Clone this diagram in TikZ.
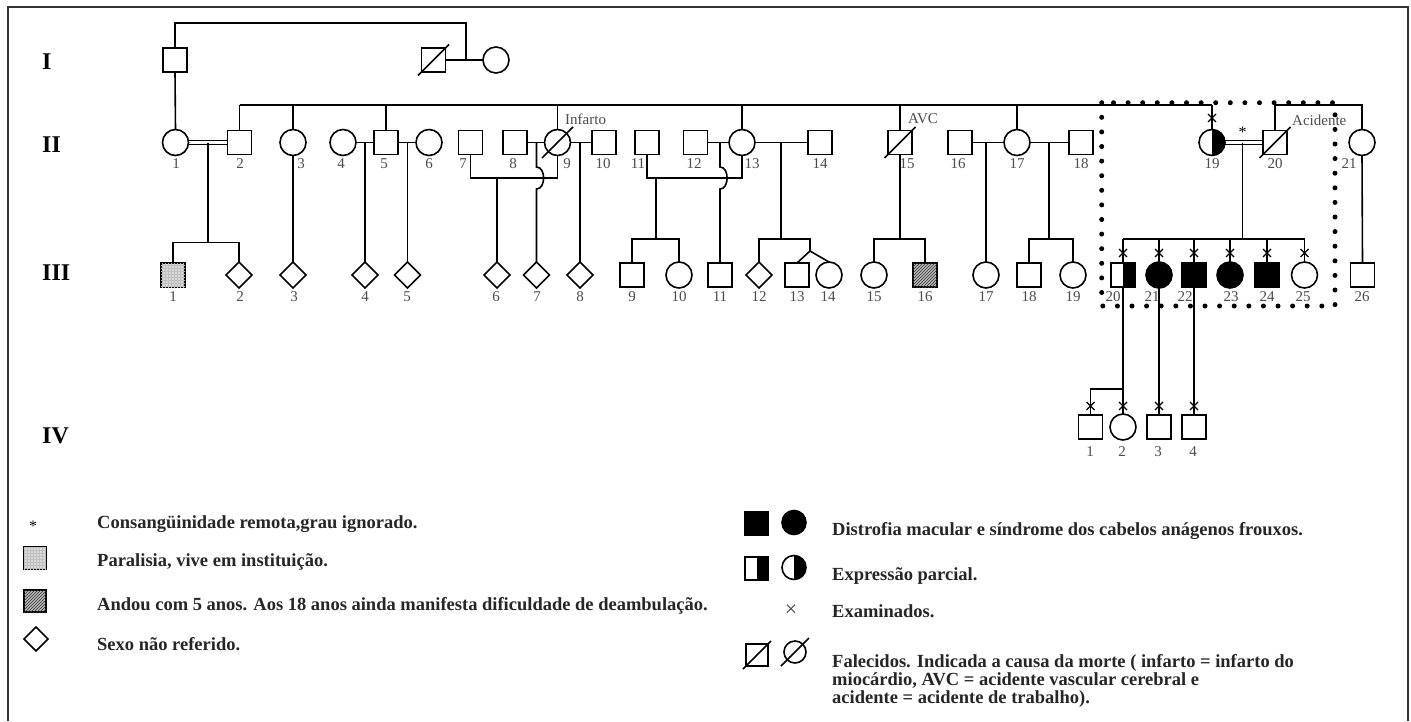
\documentclass[tikz,border=0pt]{standalone}
\usepackage{fontspec}
\setmainfont{Liberation Serif}
\usetikzlibrary{shapes.geometric,patterns,backgrounds,calc}

% examined mark: a small cross centred on a point
\newcommand\pedX[1]{\draw[line width=1.1pt, shift={(#1)}] (-4,-4) -- (4,4) (-4,4) -- (4,-4);}
% deceased: a slash through the symbol
\newcommand\pedDead[2][16]{\draw[line width=1.5pt] ($(#2.center)+(-#1,#1)$) -- ($(#2.center)+(#1,-#1)$);}

\begin{document}
\begin{tikzpicture}[x=1pt,y=-1pt,
  ind/.style={draw, line width=1.6pt, fill=white, inner sep=0pt, outer sep=0pt},
  male/.style={ind, rectangle, minimum size=24pt},
  female/.style={ind, circle, minimum size=26pt},
  unk/.style={ind, diamond, minimum width=26pt, minimum height=26pt},
  aff/.style={fill=black},
  half/.style={path picture={\fill[black] (path picture bounding box.north) rectangle (path picture bounding box.south east);}},
  light/.style={fill=gray!30, postaction={pattern=grid, pattern color=gray!50}},
  hatch/.style={fill=gray!55, postaction={pattern=north east lines, pattern color=black!80}},
  lnk/.style={line width=1.6pt},
  consang/.style={line width=1.2pt, double, double distance=2.2pt},
  dotbox/.style={line width=5pt, line cap=round, dash pattern=on 0pt off 14.6pt},
  num/.style={font=\fontsize{15}{15}\selectfont, text=black!70, inner sep=0pt},
  ann/.style={font=\fontsize{15}{15}\selectfont, text=black!70, inner sep=0pt, anchor=base west},
  gen/.style={font=\fontsize{24}{24}\selectfont\bfseries, inner sep=0pt, anchor=west},
  leg/.style={font=\fontsize{18.5}{18.5}\selectfont\bfseries, text=black!85, inner sep=0pt, anchor=base west},
]
\useasboundingbox (0,0) rectangle (1411,721);

% generation labels
\node[gen] (gI)   at (42,62)  {I};
\node[gen] (gII)  at (42,145) {II};
\node[gen] (gIII) at (42,273) {III};
\node[gen] (gIV)  at (42,436) {IV};

% ---------- generation I
\node[male]   (I1) at (175,60) {};
\node[male]   (I2) at (433.5,60) {};
\node[female] (I3) at (496,60) {};

% ---------- generation II
\node[female] (II1)  at (175.5,142.5) {};
\node[male]   (II2)  at (239.5,142.5) {};
\node[female] (II3)  at (293,142.5) {};
\node[female] (II4)  at (343,142.5) {};
\node[male]   (II5)  at (386,142.5) {};
\node[female] (II6)  at (429,142.5) {};
\node[male]   (II7)  at (470.5,142.5) {};
\node[male]   (II8)  at (515,142.5) {};
\node[female] (II9)  at (557.5,142.5) {};
\node[male]   (II10) at (604,142.5) {};
\node[male]   (II11) at (647,142.5) {};
\node[male]   (II12) at (695.5,142.5) {};
\node[female] (II13) at (742,142.5) {};
\node[male]   (II14) at (820,142.5) {};
\node[male]   (II15) at (900,142.5) {};
\node[male]   (II16) at (960,142.5) {};
\node[female] (II17) at (1017,142.5) {};
\node[male]   (II18) at (1081,142.5) {};
\node[female,half] (II19) at (1212,142.5) {};
\node[male]   (II20) at (1275,142.5) {};
\node[female] (II21) at (1362,142.5) {};

% ---------- generation III
\node[male,light] (III1) at (173,275) {};
\node[unk]    (III2)  at (239,275) {};
\node[unk]    (III3)  at (293,275) {};
\node[unk]    (III4)  at (365,275) {};
\node[unk]    (III5)  at (407.5,275) {};
\node[unk]    (III6)  at (497,275) {};
\node[unk]    (III7)  at (536.5,275) {};
\node[unk]    (III8)  at (580,275) {};
\node[male]   (III9)  at (632,275) {};
\node[female] (III10) at (679,275) {};
\node[male]   (III11) at (720,275) {};
\node[unk]    (III12) at (759,275) {};
\node[male]   (III13) at (797,275) {};
\node[female] (III14) at (829,275) {};
\node[female] (III15) at (874,275) {};
\node[male,hatch] (III16) at (925,275) {};
\node[female] (III17) at (986,275) {};
\node[male]   (III18) at (1029,275) {};
\node[female] (III19) at (1073,275) {};
\node[male,half]  (III20) at (1123,275) {};
\node[female,aff] (III21) at (1159,275) {};
\node[male,aff]   (III22) at (1194,275) {};
\node[female,aff] (III23) at (1230,275) {};
\node[male,aff]   (III24) at (1267,275) {};
\node[female] (III25) at (1304.5,275) {};
\node[male]   (III26) at (1362.5,275) {};

% ---------- generation IV
\node[male]   (IV1) at (1090.5,427) {};
\node[female] (IV2) at (1123,427) {};
\node[male]   (IV3) at (1159,427) {};
\node[male]   (IV4) at (1194,427) {};

% junction points
\coordinate (topI) at (466,23);
\coordinate (sL)   at (0,105);
\coordinate (uL)   at (0,178);
\coordinate (sIII) at (0,239);
\coordinate (s12)  at (0,242.5);
\coordinate (sIV)  at (0,389);
\coordinate (d12)   at (208,142.5);
\coordinate (d45)   at (365,142.5);
\coordinate (d56)   at (407.5,142.5);
\coordinate (d79)   at (497,178);
\coordinate (d89)   at (536.5,142.5);
\coordinate (d910)  at (580,142.5);
\coordinate (d1113) at (656,178);
\coordinate (d1213) at (720,142.5);
\coordinate (d1314) at (781,142.5);
\coordinate (tw)    at (810,251);
\coordinate (d1617) at (986,142.5);
\coordinate (d1718) at (1049,142.5);
\coordinate (d1920) at (1242.5,142.5);

\begin{scope}[on background layer]
  \fill[white] (0,0) rectangle (1411,721);
  \draw[line width=1.4pt, black!80] (8,721) -- (8,7) -- (1408,7) -- (1408,721);
  % generation I
  \draw[lnk] (I1.north) |- (topI) -- (topI |- I2.east);
  \draw[lnk] (I2.east) -- (I3.west);
  \draw[lnk] (I1.south) -- (II1.north);
  % sibship of generation II
  \draw[lnk] (II2.north |- sL) -- (II19.north |- sL);
  \foreach \c in {II2,II3,II5,II9,II13,II15,II17,II19}
    \draw[lnk] (\c.north) -- (\c.north |- sL);
  \draw[lnk] (II20.north) |- (II21.north |- sL) -- (II21.north);
  % unions
  \draw[consang] (II1.east) -- (II2.west);
  \draw[consang] (II19.east) -- (II20.west);
  \draw[lnk] (II4.east) -- (II5.west);
  \draw[lnk] (II5.east) -- (II6.west);
  \draw[lnk] (II8.east) -- (II9.west);
  \draw[lnk] (II9.east) -- (II10.west);
  \draw[lnk] (II12.east) -- (II13.west);
  \draw[lnk] (II13.east) -- (II14.west);
  \draw[lnk] (II16.east) -- (II17.west);
  \draw[lnk] (II17.east) -- (II18.west);
  \draw[lnk] (II7.south) |- (II9.south |- uL) -- (II9.south);
  \draw[lnk] (II11.south) |- (II13.south |- uL) -- (II13.south);
  % descents to generation III
  \draw[lnk] (d12) -- (d12 |- s12);
  \draw[lnk] (III1.north) |- (III2.north |- s12) -- (III2.north);
  \draw[lnk] (II3.south) -- (III3.north);
  \draw[lnk] (d45) -- (III4.north);
  \draw[lnk] (d56) -- (III5.north);
  \draw[lnk] (d79) -- (III6.north);
  \draw[lnk] (d89) -- (536.5,167) .. controls (546,167) and (546,189) .. (536.5,189) -- (III7.north);
  \draw[lnk] (d910) -- (III8.north);
  \draw[lnk] (d1113) -- (d1113 |- sIII);
  \draw[lnk] (III9.north) |- (III10.north |- sIII) -- (III10.north);
  \draw[lnk] (d1213) -- (720,167) .. controls (729.5,167) and (729.5,189) .. (720,189) -- (III11.north);
  \draw[lnk] (d1314) -- (d1314 |- sIII);
  \draw[lnk] (III12.north) |- (tw |- sIII) -- (tw);
  \draw[lnk] (III13.north) -- (tw) -- (III14.north);
  \draw[lnk] (II15.south) -- (II15.south |- sIII);
  \draw[lnk] (III15.north) |- (III16.north |- sIII) -- (III16.north);
  \draw[lnk] (d1617) -- (III17.north);
  \draw[lnk] (d1718) -- (d1718 |- sIII);
  \draw[lnk] (III18.north) |- (III19.north |- sIII) -- (III19.north);
  \draw[lnk] (d1920) -- (d1920 |- sIII);
  \draw[lnk] (III20.north |- sIII) -- (III25.north |- sIII);
  \foreach \c in {III20,III21,III22,III23,III24,III25}
    \draw[lnk] (\c.north) -- (\c.north |- sIII);
  \draw[lnk] (II21.south) -- (III26.north);
  % descents to generation IV
  \draw[lnk] (III20.south) -- (IV2.north);
  \draw[lnk] (IV1.north) |- (III20.south |- sIV);
  \draw[lnk] (III21.south) -- (IV3.north);
  \draw[lnk] (III22.south) -- (IV4.north);
\end{scope}

% deceased
\pedDead[15.5]{I2}
\pedDead[15.5]{II9}
\pedDead[15.5]{II15}
\pedDead[15.5]{II20}

% examined
\pedX{1212,118}
\foreach \x in {1123,1159,1194,1230,1267,1304.5} {\pedX{\x,253}}
\foreach \x in {1090.5,1123,1159,1194} {\pedX{\x,406}}

% causes of death and consanguinity
\node[ann] (tInf) at (565,124) {Infarto};
\node[ann] (tAVC) at (908,123) {AVC};
\node[ann] (tAci) at (1292,125) {Acidente};
\node[font=\fontsize{16}{16}\selectfont, inner sep=0pt] (tAst) at (1242.5,132) {*};

% individual numbers
\foreach \x/\t in {176/1,240/2,301/3,341/4,384/5,429/6,463/7,513/8,567/9,603/10,638/11,694/12,752/13,820/14,907/15,958/16,1017/17,1081/18,1212/19,1275/20,1349/21}
  \node[num] at (\x,164) {\t};
\foreach \x/\t in {173/1,240/2,294/3,365/4,407/5,496/6,537/7,580/8,632/9,679/10,720/11,759/12,797/13,828/14,874/15,925/16,986/17,1029/18,1073/19,1113/20,1152/21,1185/22,1231/23,1267/24,1303/25,1362/26}
  \node[num] at (\x,297) {\t};
\foreach \x/\t in {1090/1,1122/2,1158/3,1193/4}
  \node[num] at (\x,452) {\t};

% family under study
\draw[dotbox] (1101.7,102.7) rectangle (1335,306);

% ---------- key
\node[font=\fontsize{16}{16}\selectfont, inner sep=0pt] (kAst) at (33,526) {*};
\node[male,light,minimum size=22pt] (kLight) at (35,558) {};
\node[male,hatch,minimum size=22pt] (kHatch) at (35,601) {};
\node[unk,minimum width=24pt,minimum height=24pt] (kUnk) at (36,639) {};
\node[leg] at (97,528) {Consangüinidade remota,grau ignorado.};
\node[leg] at (97,566) {Paralisia, vive em instituição.};
\node[leg] at (97,610) {Andou com 5 anos. Aos 18 anos ainda manifesta dificuldade de deambulação.};
\node[leg] at (97,650) {Sexo não referido.};

\node[male,aff,minimum size=23pt] (kAffM) at (756.5,523.5) {};
\node[female,aff,minimum size=24pt] (kAffF) at (794,522.5) {};
\node[male,half,minimum size=23pt] (kHalfM) at (756.5,568.5) {};
\node[female,half,minimum size=24pt] (kHalfF) at (794,567.5) {};
\node[font=\fontsize{22}{22}\selectfont, inner sep=0pt, text=black!75] (kEx) at (791,611) {×};
\node[male,minimum size=22pt] (kDeadM) at (757,655) {};
\node[female,minimum size=22pt] (kDeadF) at (795,652) {};
\pedDead[14]{kDeadM}
\pedDead[14]{kDeadF}
\node[leg] at (832,535) {Distrofia macular e síndrome dos cabelos anágenos frouxos.};
\node[leg] at (832,580) {Expressão parcial.};
\node[leg] at (832,617) {Examinados.};
\node[leg] at (832,667) {Falecidos. Indicada a causa da morte ( infarto = infarto do};
\node[leg] at (832,685) {miocárdio, AVC = acidente vascular cerebral e};
\node[leg] at (832,703) {acidente = acidente de trabalho).};
\end{tikzpicture}
\end{document}
